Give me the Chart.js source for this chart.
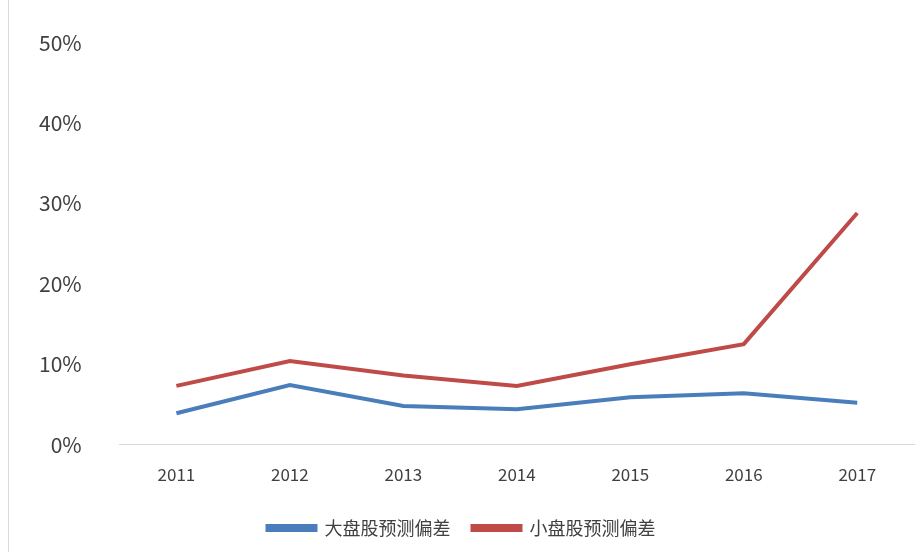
<!DOCTYPE html>
<html><head><meta charset="utf-8">
<script src="https://cdn.jsdelivr.net/npm/chart.js@4/dist/chart.umd.min.js"></script>
<style>
body{margin:0;background:#fff;}
#wrap{position:absolute;left:8px;top:0;width:907px;height:552px;border-left:1px solid #d9d9d9;}
</style></head>
<body><div id="wrap"><canvas id="c"></canvas></div>
<script>
const years = ['2011','2012','2013','2014','2015','2016','2017'];
const bigCap = [3.9, 7.4, 4.8, 4.4, 5.9, 6.4, 5.2];
const smallCap = [7.3, 10.4, 8.6, 7.3, 10.0, 12.5, 28.8];
const seriesNames = ['大盘股预测偏差', '小盘股预测偏差'];

const font = "'Noto Sans CJK SC', 'Liberation Sans', sans-serif";
new Chart(document.getElementById('c'), {
  type: 'line',
  data: {
    labels: years,
    datasets: [
      {label: seriesNames[0], data: bigCap, borderColor: '#4a7ebb', backgroundColor: '#4a7ebb', borderWidth: 4, pointRadius: 0, tension: 0},
      {label: seriesNames[1], data: smallCap, borderColor: '#be4b48', backgroundColor: '#be4b48', borderWidth: 4, pointRadius: 0, tension: 0}
    ]
  },
  options: {
    responsive: true, maintainAspectRatio: false, animation: false,
    layout: {padding: {left: 0, right: 2, top: 12, bottom: 5}},
    plugins: {
      legend: {position: 'bottom', labels: {boxWidth: 48, boxHeight: 4, font: {size: 18, family: font}, color: '#404040', padding: 22}},
      tooltip: {enabled: false}
    },
    scales: {
      x: {
        offset: true,
        grid: {display: false},
        border: {color: '#d9d9d9'},
        ticks: {font: {size: 17, family: font}, color: '#404040', padding: 12}
      },
      y: {
        min: 0, max: 50,
        grid: {display: false},
        border: {display: false},
        ticks: {stepSize: 10, callback: v => v + '%', font: {size: 21, family: font}, color: '#404040', padding: 30}
      }
    }
  }
});
</script></body></html>
